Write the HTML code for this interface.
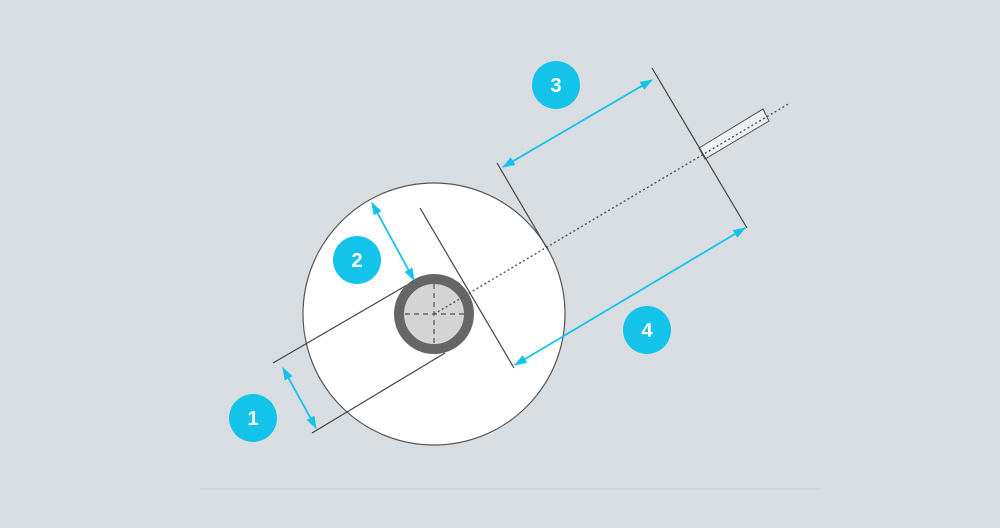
<!DOCTYPE html>
<html><head><style>
html,body{margin:0;padding:0;background:#d8dde1;}
svg{display:block}
text{font-family:"Liberation Sans",sans-serif;font-weight:bold;fill:#fff;font-size:20px;text-anchor:middle}
</style></head><body>
<svg width="1000" height="528" viewBox="0 0 1000 528" xmlns="http://www.w3.org/2000/svg">
<defs>
<marker id="a" viewBox="0 0 10 10" refX="9" refY="5" markerWidth="13" markerHeight="10" orient="auto-start-reverse" markerUnits="userSpaceOnUse" preserveAspectRatio="none">
<path d="M0,0.5 L10,5 L0,9.5 z" fill="#14c3ea"/>
</marker>
</defs>
<rect width="1000" height="528" fill="#d8dde1"/>
<line x1="200" y1="489" x2="820" y2="489" stroke="#cfd4d8" stroke-width="2"/>
<circle cx="434" cy="314" r="131" fill="#fff" stroke="#555" stroke-width="1.2"/>
<polygon points="699,148 763,109 769,121 705,159" fill="#eef0f2" stroke="#555" stroke-width="1"/>
<line x1="434" y1="314" x2="790" y2="103" stroke="#555" stroke-width="1.4" stroke-dasharray="2,2.5"/>
<line x1="420" y1="208" x2="514" y2="368" stroke="#444" stroke-width="1.2"/>
<line x1="497" y1="163" x2="548" y2="250" stroke="#444" stroke-width="1.2"/>
<line x1="652" y1="68" x2="747" y2="228" stroke="#444" stroke-width="1.2"/>
<line x1="273" y1="363" x2="407" y2="285" stroke="#444" stroke-width="1.2"/>
<line x1="312" y1="433" x2="445" y2="353" stroke="#444" stroke-width="1.2"/>
<circle cx="434" cy="314" r="35" fill="#d4d4d4" stroke="#666" stroke-width="10"/>
<g stroke="#666" stroke-width="1.4" stroke-dasharray="5,4">
<line x1="405" y1="314" x2="466" y2="314"/>
<line x1="434" y1="284" x2="434" y2="345"/>
</g>
<line x1="434" y1="314" x2="470" y2="293" stroke="#555" stroke-width="1.4" stroke-dasharray="2,2.5"/>
<g stroke="#14c3ea" stroke-width="1.8" fill="none">
<line x1="283" y1="368" x2="316" y2="428" marker-start="url(#a)" marker-end="url(#a)"/>
<line x1="372" y1="203" x2="414" y2="280" marker-start="url(#a)" marker-end="url(#a)"/>
<line x1="652" y1="80" x2="503" y2="167" marker-start="url(#a)" marker-end="url(#a)"/>
<line x1="745" y1="228" x2="515" y2="365" marker-start="url(#a)" marker-end="url(#a)"/>
</g>
<g fill="#14c3ea">
<circle cx="253" cy="418" r="24"/>
<circle cx="357" cy="260" r="24"/>
<circle cx="556" cy="85" r="24"/>
<circle cx="647" cy="330" r="24"/>
</g>
<text x="253" y="425">1</text>
<text x="357" y="267">2</text>
<text x="556" y="92">3</text>
<text x="647" y="337">4</text>
</svg>
</body></html>
